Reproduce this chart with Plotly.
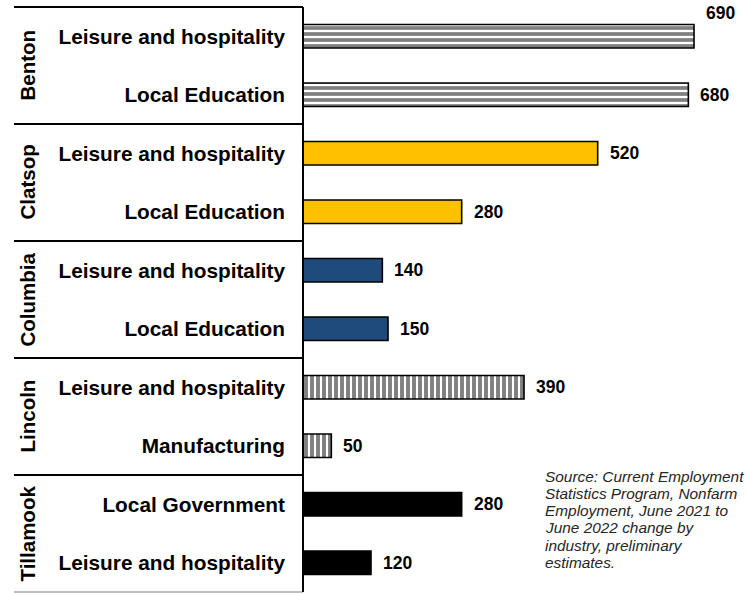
import plotly.graph_objects as go

counties = ["Benton", "Clatsop", "Columbia", "Lincoln", "Tillamook"]
industries = [
    "Leisure and hospitality", "Local Education",
    "Leisure and hospitality", "Local Education",
    "Leisure and hospitality", "Local Education",
    "Leisure and hospitality", "Manufacturing",
    "Local Government", "Leisure and hospitality",
]
values = [690, 680, 520, 280, 140, 150, 390, 50, 280, 120]
source_lines = [
    "Source: Current Employment",
    "Statistics Program, Nonfarm",
    "Employment, June 2021 to",
    "June 2022 change by",
    "industry, preliminary",
    "estimates.",
]

FONT = "Liberation Sans, Arial, sans-serif"
W, H = 746, 593
ML, MR, MT, MB = 303, 0, 7, 1
plot_w = W - ML - MR
plot_h = H - MT - MB

# per-county styling
county_fill = ["white", "#FFC000", "#1F4A7C", "white", "black"]
county_shape = ["-", "", "", "|", ""]
county_psize = [6, 8, 8, 6, 8]
county_psolid = [0.62, 0.3, 0.3, 0.65, 0.3]

n = len(values)
per = n // len(counties)
ypos = list(range(n))

fig = go.Figure()
for g, c in enumerate(counties):
    idx = ypos[g * per:(g + 1) * per]
    fig.add_trace(go.Bar(
        x=[values[i] for i in idx],
        y=idx,
        orientation="h",
        width=0.4,
        name=c,
        marker=dict(
            color=county_fill[g],
            line=dict(color="black", width=1.6),
            pattern=dict(shape=county_shape[g], fgcolor="black",
                         bgcolor="white", size=county_psize[g],
                         solidity=county_psolid[g], fillmode="overlay"),
        ),
        showlegend=False,
        hoverinfo="skip",
    ))

annotations = []
# value labels
for i, v in enumerate(values):
    annotations.append(dict(
        x=v, y=i, xref="x", yref="y", text=str(v), showarrow=False,
        xanchor="left", xshift=10, yshift=(23 if i == 0 else 0),
        font=dict(family=FONT, size=17.5, color="black", weight="bold"),
    ))
# county labels
x_county = (27 - ML) / plot_w
for g, c in enumerate(counties):
    annotations.append(dict(
        x=x_county, y=g * per + (per - 1) / 2, xref="paper", yref="y",
        text=c, showarrow=False, textangle=-90,
        xanchor="center", yanchor="middle",
        font=dict(family=FONT, size=20.5, color="black", weight="bold"),
    ))
# source note
x_src = (543 - ML) / plot_w
for k, line in enumerate(source_lines):
    ypx = 476 + 17.3 * k
    annotations.append(dict(
        x=x_src, y=(MT + plot_h - ypx) / plot_h, xref="paper", yref="paper",
        text=line, showarrow=False, xanchor="left", yanchor="middle",
        font=dict(family=FONT, size=15.4, color="#262626", style="italic"),
    ))

shapes = []
x_left = (14 - ML) / plot_w
for g in range(len(counties) + 1):
    yp = 1 - g * per / n
    shapes.append(dict(
        type="line", xref="paper", yref="paper",
        x0=x_left, x1=0, y0=yp, y1=yp,
        line=dict(color=("#bdbdbd" if g == len(counties) else "black"), width=2),
    ))
shapes.append(dict(type="line", xref="paper", yref="paper",
                   x0=0, x1=0, y0=0, y1=1, line=dict(color="black", width=2)))

fig.update_layout(
    width=W, height=H,
    margin=dict(l=ML, r=MR, t=MT, b=MB, autoexpand=False),
    paper_bgcolor="white", plot_bgcolor="white",
    xaxis=dict(range=[0, plot_w / 0.5667], visible=False, fixedrange=True),
    yaxis=dict(
        range=[n - 0.5, -0.5], tickvals=ypos, ticktext=industries,
        showgrid=False, zeroline=False, showline=False, ticks="",
        ticklabelstandoff=17,
        tickfont=dict(family=FONT, size=20.8, color="black", weight="bold"),
    ),
    annotations=annotations,
    shapes=shapes,
    bargap=0.6,
)

fig.write_html(
    "out.html",
    config={"displayModeBar": False},
    post_script="document.body.style.margin='0';document.body.style.overflow='hidden';",
)
